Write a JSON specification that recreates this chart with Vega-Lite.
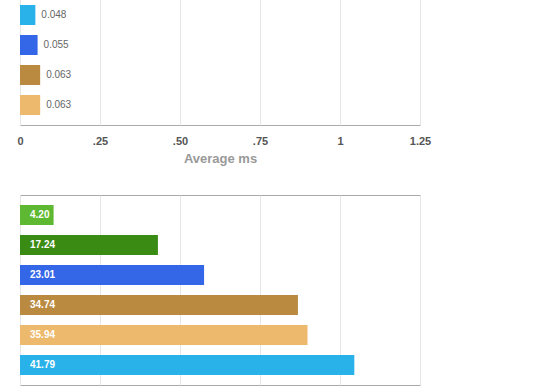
{
  "$schema": "https://vega.github.io/schema/vega-lite/v6.json",
  "padding": {"left": 16, "top": -66, "right": 0, "bottom": 0},
  "background": "white",
  "spacing": 28,
  "config": {
    "font": "Liberation Sans",
    "view": {"stroke": "#aaaaaa", "strokeWidth": 1},
    "axis": {"gridColor": "#e6e6e6", "domain": false, "ticks": false}
  },
  "vconcat": [
    {
      "width": 400,
      "height": 190,
      "data": {"values": [
        {"impl": "sky blue", "ms": 0.048},
        {"impl": "blue", "ms": 0.055},
        {"impl": "brown", "ms": 0.063},
        {"impl": "tan", "ms": 0.063}
      ]},
      "encoding": {
        "y": {"field": "impl", "type": "nominal", "axis": null,
          "scale": {"domain": ["green", "dark green", "sky blue", "blue", "brown", "tan"], "paddingInner": 0.3333, "paddingOuter": 0.3333}},
        "x": {"field": "ms", "type": "quantitative",
          "scale": {"domain": [0, 1.25], "nice": false},
          "axis": {"values": [0, 0.25, 0.5, 0.75, 1, 1.25], "title": "Average ms",
            "labelExpr": "datum.value == 0 ? '0' : (datum.value >= 1 ? format(datum.value, '~g') : '.' + substring(format(datum.value, '.2f'), 2))",
            "labelFont": "Liberation Sans", "labelFontSize": 11, "labelFontWeight": "bold", "labelColor": "#555555", "labelPadding": 10, "labelFlush": false,
            "titleFontSize": 13, "titleFontWeight": "bold", "titleColor": "#999999", "titlePadding": 6}}
      },
      "layer": [
        {"mark": {"type": "bar"},
         "encoding": {"color": {"field": "impl", "type": "nominal", "legend": null,
           "scale": {"domain": ["green", "dark green", "sky blue", "blue", "brown", "tan"], "range": ["#5fb832", "#3a8b14", "#29b1ea", "#3466e8", "#b98a40", "#edb96d"]}}}},
        {"mark": {"type": "text", "align": "left", "baseline": "middle", "dx": 6, "fontSize": 10, "color": "#666666"},
         "encoding": {"text": {"field": "ms", "type": "quantitative", "format": ".3f"}}}
      ]
    },
    {
      "width": 400,
      "height": 190,
      "data": {"values": [
        {"impl": "green", "ms": 4.20},
        {"impl": "dark green", "ms": 17.24},
        {"impl": "blue", "ms": 23.01},
        {"impl": "brown", "ms": 34.74},
        {"impl": "tan", "ms": 35.94},
        {"impl": "sky blue", "ms": 41.79}
      ]},
      "encoding": {
        "y": {"field": "impl", "type": "nominal", "axis": null,
          "scale": {"domain": ["green", "dark green", "blue", "brown", "tan", "sky blue"], "paddingInner": 0.3333, "paddingOuter": 0.3333}},
        "x": {"field": "ms", "type": "quantitative",
          "scale": {"domain": [0, 50], "nice": false},
          "axis": {"values": [0, 10, 20, 30, 40, 50], "title": null, "labels": false}}
      },
      "layer": [
        {"mark": {"type": "bar"},
         "encoding": {"color": {"field": "impl", "type": "nominal", "legend": null,
           "scale": {"domain": ["green", "dark green", "sky blue", "blue", "brown", "tan"], "range": ["#5fb832", "#3a8b14", "#29b1ea", "#3466e8", "#b98a40", "#edb96d"]}}}},
        {"mark": {"type": "text", "align": "left", "baseline": "middle", "dx": 10, "fontSize": 10, "fontWeight": "bold", "color": "white"},
         "encoding": {"x": {"datum": 0}, "text": {"field": "ms", "type": "quantitative", "format": ".2f"}}}
      ]
    }
  ]
}
